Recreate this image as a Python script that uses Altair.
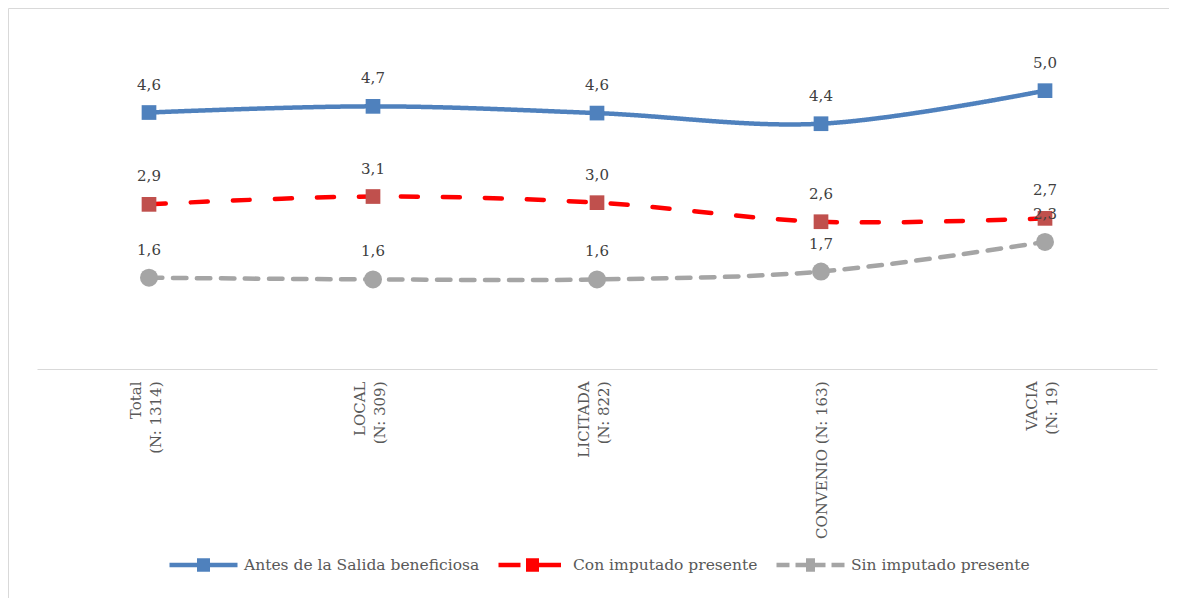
import altair as alt
import pandas as pd

categories = ["Total\n(N: 1314)", "LOCAL\n(N: 309)", "LICITADA\n(N: 822)",
              "CONVENIO (N: 163)", "VACIA\n(N: 19)"]
series = ["Antes de la Salida beneficiosa", "Con imputado presente", "Sin imputado presente"]
antes = [4.58, 4.69, 4.57, 4.38, 4.97]
con = [2.94, 3.08, 2.97, 2.63, 2.69]
sin = [1.63, 1.60, 1.60, 1.74, 2.27]

line_colors = ["#4F81BD", "#FF0000", "#A5A5A5"]
marker_colors = ["#4F81BD", "#C0504D", "#A5A5A5"]
dashes = [[1, 0], [17, 25], [13.5, 10.5]]

# legend glyphs: line segments with the series marker in the middle (unit = half symbol width)
legend_glyphs = [
    "M-1,0H1M-0.191,-0.132H0.191M-0.191,0.132H0.191",
    "M-1,0H-0.676M-0.676,0H-0.353M-0.191,-0.132H0.191M-0.191,0H0.191M-0.191,0.132H0.191"
    "M0.191,0H0.515M0.515,0H0.838",
    "M-1,0H-0.618M-0.441,0H-0.147M-0.191,0H0.191M-0.132,-0.132H0.132M-0.132,0.132H0.132"
    "M0.147,0H0.441M0.618,0H1",
]

rows = []
for s, vals in zip(series, [antes, con, sin]):
    for i, (c, v) in enumerate(zip(categories, vals)):
        rows.append({"cat": c, "idx": i, "serie": s, "v": v})
df = pd.DataFrame(rows)

FONT = "DejaVu Serif"

x_enc = alt.X(
    "cat:N", sort=categories,
    scale=alt.Scale(type="point", padding=0.5),
    axis=alt.Axis(
        title=None, labelAngle=270, labelAlign="right", labelBaseline="middle",
        labelFont=FONT, labelFontSize=15, labelColor="#595959",
        labelLineHeight=20, labelPadding=12, ticks=False,
        domainColor="#D9D9D9", domainWidth=1, grid=False, labelLimit=400,
        labelExpr="split(datum.label, '\\n')",
        labelOffset={"condition": {"test": "indexof(datum.value, '\\n') >= 0", "value": -14}, "value": 0},
    ),
)
y_enc = alt.Y("v:Q", scale=alt.Scale(domain=[0, 6]), axis=None)

leg = alt.Legend(
    title=None, orient="none", legendX=130, legendY=495.5, direction="horizontal",
    symbolSize=4624, symbolStrokeWidth=4.5,
    labelFont=FONT, labelFontSize=15.5, labelColor="#595959",
    labelOffset=4, labelLimit=500, columnPadding=9, padding=0,
)

base = alt.Chart(df)

lines = base.mark_line(interpolate="cardinal", strokeWidth=4.5, strokeCap="round").encode(
    x=x_enc, y=y_enc,
    color=alt.Color("serie:N", scale=alt.Scale(domain=series, range=line_colors), legend=leg),
    strokeDash=alt.StrokeDash("serie:N", scale=alt.Scale(domain=series, range=dashes), legend=leg),
    order=alt.Order("idx:Q"),
)

legend_carrier = base.transform_filter("false").mark_point(filled=False, opacity=1).encode(
    x=x_enc, y=y_enc,
    shape=alt.Shape("serie:N", scale=alt.Scale(domain=series, range=legend_glyphs), legend=leg),
)

marker_fill = alt.Fill("serie:N", scale=alt.Scale(domain=series, range=marker_colors), legend=None)

squares = base.transform_filter(
    alt.FieldOneOfPredicate(field="serie", oneOf=series[:2])
).mark_point(shape="square", filled=True, size=216, opacity=1, strokeWidth=0).encode(
    x=x_enc, y=y_enc, fill=marker_fill,
)
circles = base.transform_filter(
    alt.FieldEqualPredicate(field="serie", equal=series[2])
).mark_point(shape="circle", filled=True, size=324, opacity=1, strokeWidth=0).encode(
    x=x_enc, y=y_enc, fill=marker_fill,
)

labels = base.transform_calculate(
    lab="replace(format(datum.v, '.1f'), '.', ',')"
).mark_text(dy=-28, font=FONT, fontSize=15, color="#404040", baseline="middle").encode(
    x=x_enc, y=y_enc, text="lab:N",
)

frame_df = pd.DataFrame({"k": [0]})
frame_top = alt.Chart(frame_df).mark_rule(color="#D9D9D9", strokeWidth=1).encode(
    x=alt.value(-28.5), x2=alt.value(1135), y=alt.value(-24.5))
frame_left = alt.Chart(frame_df).mark_rule(color="#D9D9D9", strokeWidth=1).encode(
    x=alt.value(-28.5), y=alt.value(-24.5), y2=alt.value(570))

chart = alt.layer(frame_top, frame_left, lines, legend_carrier, squares, circles, labels).properties(
    width=1120, height=336,
    background="white",
    autosize=alt.AutoSizeParams(type="none"),
    padding={"left": 29, "top": 25, "right": 12, "bottom": 229},
).configure_view(strokeWidth=0, stroke="transparent")

chart.save("out.html", embed_options={"renderer": "svg", "actions": False})
